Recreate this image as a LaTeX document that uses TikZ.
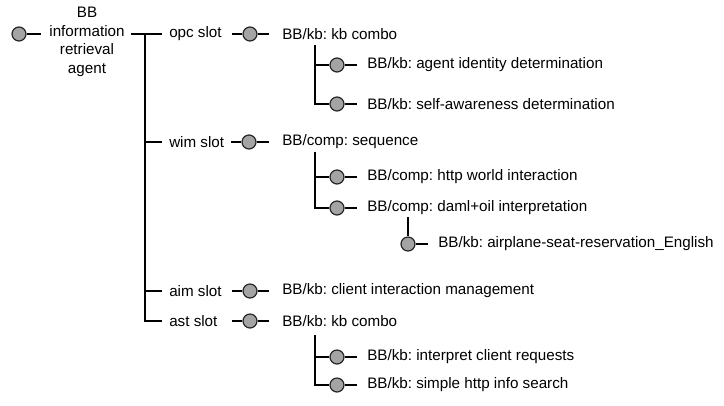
\documentclass[tikz,border=0pt]{standalone}
\usepackage{fontspec}
\setmainfont{Liberation Sans}
\definecolor{ballfill}{HTML}{A4A4A4}
\begin{document}
\frenchspacing
\begin{tikzpicture}[x=0.75pt,y=-0.75pt,
  ball/.style={circle,draw=black!85,fill=ballfill,minimum size=10.5pt,inner sep=0pt,line width=0.9pt},
  lbl/.style={anchor=west,inner sep=0pt,font=\fontsize{11.4}{14}\selectfont},
  conn/.style={line width=0.9pt,draw=black}]
\useasboundingbox (0,0) rectangle (724,405);
% root
\node[ball] (c0) at (19,34) {};
\node[inner sep=0pt,align=center,font=\fontsize{11.4}{14}\selectfont] (root) at (87,42) {BB\\information\\retrieval\\agent};
\draw[conn] (c0.east) -- ([xshift=-6pt]c0 -| root.west);
% trunk
\coordinate (trunk) at (145,34);
% slots
\node[lbl] (opc) at (169,34) {opc slot};
\node[lbl] (wim) at (169,142) {wim slot};
\node[lbl] (aim) at (169,291) {aim slot};
\node[lbl] (ast) at (169,321) {ast slot};
\draw[conn] ([xshift=4.5pt]c0 -| root.east) -- ([xshift=-5pt]opc.west);
\draw[conn] (trunk) -- (trunk |- ast.west) -- ([xshift=-5pt]ast.west);
\draw[conn] (trunk |- wim.west) -- ([xshift=-5pt]wim.west);
\draw[conn] (trunk |- aim.west) -- ([xshift=-5pt]aim.west);
% slot balls
\node[ball] (s1) at (250,34) {};
\node[ball] (s2) at (249,142) {};
\node[ball] (s3) at (250,291) {};
\node[ball] (s4) at (250,321) {};
% level 2 texts
\node[lbl] (k1) at (282,34) {BB/kb: kb combo};
\node[lbl] (seq) at (282,142) {BB/comp: sequence};
\node[lbl] (cim) at (282,291) {BB/kb: client interaction management};
\node[lbl] (k2) at (282,321) {BB/kb: kb combo};
\foreach \s/\t in {s1/k1,s2/seq,s3/cim,s4/k2}{
  \draw[conn] ([xshift=-8pt]\s.west) -- (\s.west);
  \draw[conn] (\s.east) -- ([xshift=-10pt]\t.west);
}
% children of kb combo (opc)
\node[ball] (a1) at (337,65) {};
\node[ball] (a2) at (337,104) {};
\node[lbl] (ta1) at (367,65) {BB/kb: agent identity determination};
\node[lbl] (ta2) at (367,104) {BB/kb: self-awareness determination};
\coordinate (v1) at (315,45);
\draw[conn] (v1) |- (a2.west);
\draw[conn] (v1 |- a1.west) -- (a1.west);
% children of sequence
\node[ball] (b1) at (337,177) {};
\node[ball] (b2) at (337,208) {};
\node[lbl] (tb1) at (367,177) {BB/comp: http world interaction};
\node[lbl] (tb2) at (367,208) {BB/comp: daml+oil interpretation};
\coordinate (v2) at (315,152);
\draw[conn] (v2) |- (b2.west);
\draw[conn] (v2 |- b1.west) -- (b1.west);
% grandchild
\node[ball] (g1) at (408,244) {};
\node[lbl] (tg1) at (438,244) {BB/kb: airplane-seat-reservation\_English};
\coordinate (v3) at (408,217);
\draw[conn] (v3) -- (g1.north);
\draw[conn] (g1.east) -- ([xshift=-7.5pt]tg1.west);
% children of kb combo (ast)
\node[ball] (d1) at (337,357) {};
\node[ball] (d2) at (337,385) {};
\node[lbl] (td1) at (367,357) {BB/kb: interpret client requests};
\node[lbl] (td2) at (367,385) {BB/kb: simple http info search};
\coordinate (v4) at (315,335);
\draw[conn] (v4) |- (d2.west);
\draw[conn] (v4 |- d1.west) -- (d1.west);
% child ball right stubs
\foreach \b/\t in {a1/ta1,a2/ta2,b1/tb1,b2/tb2,d1/td1,d2/td2}{
  \draw[conn] (\b.east) -- ([xshift=-7.5pt]\t.west);
}
\end{tikzpicture}
\end{document}
